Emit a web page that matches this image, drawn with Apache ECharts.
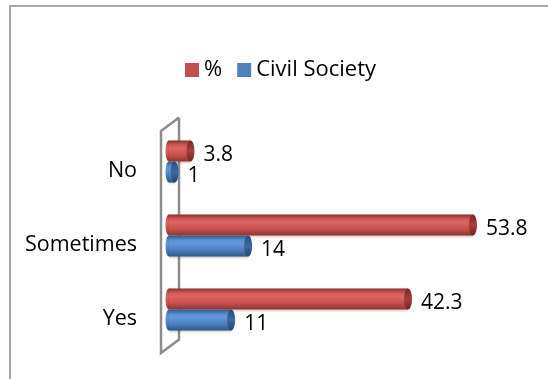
<!DOCTYPE html>
<html>
<head>
<meta charset="utf-8">
<script src="https://cdn.jsdelivr.net/npm/echarts@6/dist/echarts.min.js"></script>
<style>
  html, body { margin: 0; padding: 0; background: #fff; }
  #chart { width: 548px; height: 379px; }
</style>
</head>
<body>
<div id="chart"></div>
<script>
// Survey answers, top to bottom
const categories = ['No', 'Sometimes', 'Yes'];
const seriesNames = ['%', 'Civil Society'];
const percentValues = [3.8, 53.8, 42.3];
const civilSocietyValues = [1, 14, 11];

// Layout
const FONT = '"Open Sans", "Noto Sans", sans-serif';
const GRID = { left: 169, right: 40, top: 124.5, bottom: 32.5 };
const W = 548, H = 379;

const palette = [
  { base: '#C0504D', body: ['#8a302d', '#d25a56', '#dc6662', '#c44f4b', '#8f3532'], cap: ['#7a2a28', '#a8403d', '#6e2624'] },
  { base: '#4F81BD', body: ['#2d5a8e', '#5a8fd2', '#6398dc', '#4a7ebf', '#2e5685'], cap: ['#264c78', '#3d6aa2', '#22456d'] }
];

const BODY_STOPS = [0, 0.22, 0.38, 0.7, 1];
function grad(stops) {
  const offs = stops.length === BODY_STOPS.length ? BODY_STOPS : stops.map((c, i) => i / (stops.length - 1));
  return new echarts.graphic.LinearGradient(0, 0, 0, 1,
    stops.map((c, i) => ({ offset: offs[i], color: c })));
}

// Cylinder bar: body, rounded back end, darker front cap, value label
function makeRender(sIdx) {
  return function (params, api) {
    const v = api.value(0);
    const cat = api.value(1);
    const start = api.coord([0, cat]);
    const end = api.coord([v, cat]);
    const band = api.size([0, 1])[1];
    const h = band * 0.284;
    const y0 = sIdx === 0 ? start[1] - h : start[1];
    const cy = y0 + h / 2;
    const x0 = start[0], x1 = end[0];
    const p = palette[sIdx];
    return {
      type: 'group',
      children: [
        { type: 'ellipse', shape: { cx: x0, cy: cy, rx: 3.5, ry: h / 2 }, style: { fill: grad(p.body) } },
        { type: 'rect', shape: { x: x0, y: y0, width: Math.max(x1 - x0, 0.5), height: h },
          style: { fill: grad(p.body), shadowBlur: 2, shadowColor: 'rgba(0,0,0,0.2)', shadowOffsetY: 1 } },
        { type: 'ellipse', shape: { cx: x1, cy: cy, rx: 4, ry: h / 2 }, style: { fill: grad(p.cap) } },
        { type: 'text', x: x1 + 13, y: cy + 4,
          style: { text: String(v), fill: '#000', font: '21px ' + FONT, verticalAlign: 'middle', align: 'left' } }
      ]
    };
  };
}

const chart = echarts.init(document.getElementById('chart'), null, { renderer: 'canvas' });

// 3D-style back wall beside the category axis
const gTop = GRID.top, gBot = H - GRID.bottom;
const fx = GRID.left - 8, bx = fx + 18, lift = 13.5;
const wall = [[bx, gTop + 6.5 - lift], [fx, gTop + 6.5], [fx, gBot + 6.5], [bx, gBot + 6.5 - lift], [bx, gTop + 6.5 - lift]];

chart.setOption({
  animation: false,
  backgroundColor: '#fff',
  textStyle: { fontFamily: FONT },
  graphic: [
    { type: 'rect', z: -10, shape: { x: 10, y: 6, width: W + 20, height: H + 20 },
      style: { fill: 'none', stroke: '#8a8a8a', lineWidth: 1.5 } },
    { type: 'polyline', z: -5, shape: { points: wall },
      style: { fill: 'none', stroke: '#8c8c8c', lineWidth: 2.5 } }
  ],
  legend: {
    data: seriesNames,
    icon: 'rect',
    left: 185, top: 59, padding: 0,
    itemWidth: 14, itemHeight: 14, itemGap: 15,
    itemStyle: { borderWidth: 0 },
    textStyle: { fontSize: 22, color: '#000', fontFamily: FONT }
  },
  grid: { left: GRID.left, right: GRID.right, top: GRID.top, bottom: GRID.bottom },
  xAxis: { type: 'value', min: 0, max: 60, show: false },
  yAxis: {
    type: 'category', data: categories, inverse: true,
    axisLine: { show: false }, axisTick: { show: false },
    axisLabel: { fontSize: 21.5, color: '#000', margin: 32, verticalAlign: 'top', lineHeight: 18, fontFamily: FONT }
  },
  series: [
    { name: seriesNames[0], type: 'custom', itemStyle: { color: palette[0].base, borderWidth: 0 },
      encode: { x: 0, y: 1 }, renderItem: makeRender(0),
      data: percentValues.map((v, i) => [v, i]) },
    { name: seriesNames[1], type: 'custom', itemStyle: { color: palette[1].base, borderWidth: 0 },
      encode: { x: 0, y: 1 }, renderItem: makeRender(1),
      data: civilSocietyValues.map((v, i) => [v, i]) }
  ]
});
</script>
</body>
</html>
